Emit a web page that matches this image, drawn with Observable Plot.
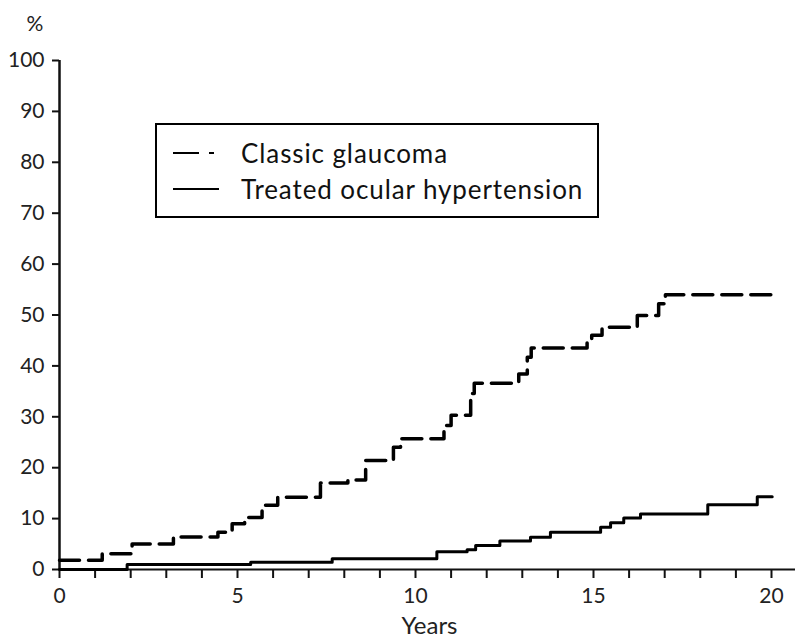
<!DOCTYPE html>
<html>
<head>
<meta charset="utf-8">
<script src="https://cdn.jsdelivr.net/npm/d3@7"></script>
<script src="https://cdn.jsdelivr.net/npm/@observablehq/plot@0.6"></script>
<style>
  html, body { margin: 0; padding: 0; background: #fff; }
  #wrap { position: relative; width: 795px; height: 640px; font-family: Lato, "Open Sans", sans-serif; }
  #legend { position: absolute; left: 155px; top: 123px; width: 440px; height: 91px; border: 2px solid #000; background: #fff; }
  .row { position: absolute; left: 0; height: 30px; display: flex; align-items: center; font-size: 26px; letter-spacing: 0.9px; color: #111; white-space: nowrap; }
  .row svg { margin-left: 16px; margin-right: 22px; }
</style>
</head>
<body>
<div id="wrap">
  <div id="chart"></div>
  <div id="legend"></div>
</div>
<script>
// Series names
const seriesNames = ["Classic glaucoma", "Treated ocular hypertension"];

// Classic glaucoma: step start years and cumulative %
const glaucomaYears = [0, 1.2, 2.04, 3.2, 4.45, 4.85, 5.2, 5.69, 6.13, 7.33, 8.1, 8.6, 9.38, 9.58, 10.8, 11.0, 11.55, 11.65, 12.9, 13.14, 13.25, 14.82, 14.95, 15.24, 16.23, 16.83, 17.02, 20.05];
const glaucomaPct   = [1.8, 3.1, 5.0, 6.4, 7.3, 9.0, 10.2, 12.6, 14.2, 17.0, 17.6, 21.4, 24.0, 25.7, 28.3, 30.3, 34.6, 36.6, 38.4, 41.7, 43.5, 45.3, 46.0, 47.6, 49.9, 52.2, 54.0, 54.0];

// Treated ocular hypertension
const ohtYears = [0, 1.9, 5.37, 7.66, 10.6, 11.45, 11.69, 12.37, 13.23, 13.79, 15.2, 15.48, 15.85, 16.32, 18.21, 19.6, 20.02];
const ohtPct   = [0, 1.0, 1.4, 2.1, 3.5, 3.9, 4.7, 5.6, 6.35, 7.3, 8.3, 9.2, 10.1, 10.9, 12.7, 14.3, 14.3];

// Axis ticks and labels
const xTicks = d3.range(0, 21);
const xTickLabels = [0, 5, 10, 15, 20];
const yTicks = [0, 10, 20, 30, 40, 50, 60, 70, 80, 90, 100];
const xLabel = "Years";
const yLabel = "%";

const glaucoma = glaucomaYears.map((t, i) => ({t, v: glaucomaPct[i]}));
const oht = ohtYears.map((t, i) => ({t, v: ohtPct[i]}));

const plot = Plot.plot({
  width: 795,
  height: 640,
  marginLeft: 59,
  marginRight: 24,
  marginTop: 60,
  marginBottom: 71,
  style: { fontFamily: "Lato, 'Open Sans', sans-serif", fontSize: "21px", color: "#222", background: "#fff" },
  x: { domain: [0, 20] },
  y: { domain: [0, 100] },
  marks: [
    Plot.axisY({ ticks: yTicks, tickSize: 7, tickPadding: 8, label: null, stroke: "#111", strokeWidth: 2, fill: "#222" }),
    Plot.axisX({ ticks: xTicks, tickSize: 9, tickPadding: 10, label: null, tickFormat: d => xTickLabels.includes(d) ? String(d) : "", stroke: "#111", strokeWidth: 2, fill: "#222" }),
    Plot.ruleX([0], { y1: 0, y2: 100, stroke: "#111", strokeWidth: 2.5 }),
    Plot.ruleY([0], { x1: 0, x2: 20.7, stroke: "#111", strokeWidth: 2, clip: false }),
    Plot.line(oht, { x: "t", y: "v", curve: "step-after", stroke: "#000", strokeWidth: 3 }),
    Plot.line(glaucoma, { x: "t", y: "v", curve: "step-after", stroke: "#000", strokeWidth: 3.5, strokeDasharray: "20,9" }),
    Plot.text([yLabel], { frameAnchor: "top-left", dx: -33, dy: -44, fontSize: 21, fill: "#222" }),
    Plot.text([xLabel], { frameAnchor: "bottom", dx: 14, dy: 64, fontSize: 24, fill: "#222" })
  ]
});
document.getElementById("chart").appendChild(plot);

// Legend (HTML overlay)
const legend = document.getElementById("legend");
const rowsTop = [13, 49];
seriesNames.forEach((name, i) => {
  const row = document.createElement("div");
  row.className = "row";
  row.style.top = rowsTop[i] + "px";
  const dashed = i === 0;
  row.innerHTML = `<svg width="46" height="10">${dashed
    ? '<line x1="0" y1="5" x2="26" y2="5" stroke="#000" stroke-width="2"/><line x1="36" y1="5" x2="41" y2="5" stroke="#000" stroke-width="2"/>'
    : '<line x1="0" y1="5" x2="46" y2="5" stroke="#000" stroke-width="2"/>'}</svg><span>${name}</span>`;
  legend.appendChild(row);
});
</script>
</body>
</html>
